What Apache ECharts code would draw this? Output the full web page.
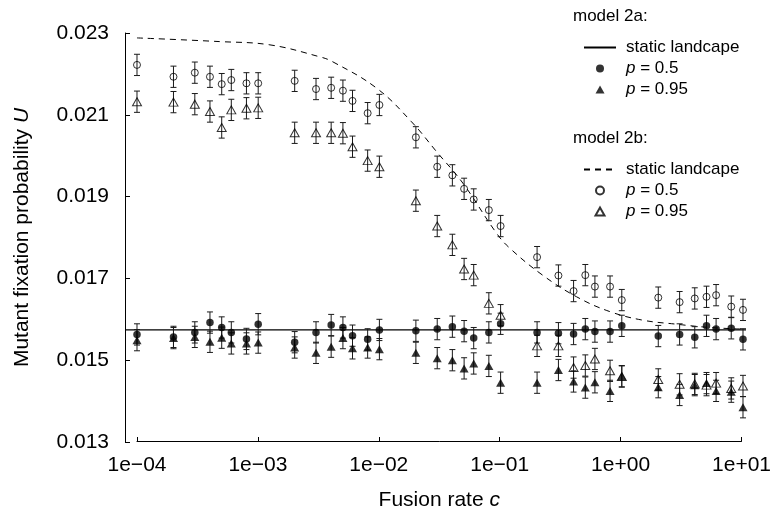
<!DOCTYPE html>
<html><head><meta charset="utf-8">
<script src="https://cdn.jsdelivr.net/npm/echarts@6/dist/echarts.min.js"></script>
<style>html,body{margin:0;padding:0;background:#fff}#chart{width:774px;height:516px}</style>
</head><body><div id="chart"></div>
<script>
// ---- data ----
const C = [1e-4,2e-4,3e-4,4e-4,5e-4,6e-4,8e-4,
           1e-3,2e-3,3e-3,4e-3,5e-3,6e-3,8e-3,
           1e-2,2e-2,3e-2,4e-2,5e-2,6e-2,8e-2,
           0.1,0.2,0.3,0.4,0.5,0.6,0.8,
           1,2,3,4,5,6,8,
           10];
const U_2A_P05 = [0.01563,0.01557,0.01568,0.01592,0.01580,0.01568,0.01552,
                  0.01588,0.01544,0.01568,0.01586,0.01580,0.01560,0.01551,
                  0.01574,0.01572,0.01576,0.01582,0.01571,0.01554,0.01568,
                  0.01589,0.01568,0.01566,0.01564,0.01576,0.01570,0.01570,
                  0.01584,0.01559,0.01563,0.01556,0.01584,0.01576,0.01578,
                  0.01551];
const U_2A_P095 = [0.01549,0.01554,0.01557,0.01545,0.01555,0.01541,0.01541,
                   0.01543,0.01531,0.01518,0.01533,0.01554,0.01529,0.01531,
                   0.01527,0.01518,0.01505,0.01500,0.01480,0.01492,0.01486,
                   0.01445,0.01445,0.01476,0.01448,0.01433,0.01446,0.01425,
                   0.01461,0.01434,0.01415,0.01439,0.01444,0.01425,0.01423,
                   0.01385];
const U_2B_P05 = [0.02222,0.02193,0.02203,0.02193,0.02175,0.02185,0.02177,
                  0.02177,0.02183,0.02163,0.02166,0.02159,0.02134,0.02104,
                  0.02124,0.02045,0.01973,0.01952,0.01919,0.01893,0.01867,
                  0.01828,0.01752,0.01707,0.01669,0.01708,0.01680,0.01680,
                  0.01647,0.01653,0.01642,0.01651,0.01655,0.01659,0.01631,
                  0.01623];
const U_2B_P095 = [0.02132,0.02131,0.02126,0.02108,0.02069,0.02112,0.02116,
                   0.02117,0.02056,0.02056,0.02056,0.02055,0.02022,0.01988,
                   0.01973,0.01890,0.01828,0.01782,0.01723,0.01708,0.01639,
                   0.01610,0.01535,0.01535,0.01482,0.01487,0.01503,0.01474,
                   0.01460,0.01453,0.01441,0.01442,0.01439,0.01444,0.01431,
                   0.01437];
const STATIC_2A_U = 0.01574;
const STATIC_2B_C = [1e-4,4.8e-4,1.25e-3,3.2e-3,4.1e-3,9.5e-3,0.0184,0.0296,0.0488,0.0923,0.119,0.222,0.424,0.794,1.48,2.83,5.3,10];
const STATIC_2B_U = [0.02288,0.02279,0.02271,0.02242,0.0223,0.02165,0.02083,0.0201,0.01933,0.01811,0.01774,0.01708,0.01655,0.01619,0.01598,0.01588,0.0158,0.01576];
const ERR = 0.00026;
const Y_MIN = 0.013, Y_MAX = 0.023, Y_STEP = 0.002;
const X_TICK_LABELS = ['1e\u221204','1e\u221203','1e\u221202','1e\u221201','1e+00','1e+01'];
const LEGEND_LABELS = {
  s2a: 'static landcape', c2a: '{i|p} = 0.5', t2a: '{i|p} = 0.95',
  s2b: 'static landcape', c2b: '{i|p} = 0.5', t2b: '{i|p} = 0.95'
};

// ---- layout ----
const FONT = "'Liberation Sans', Arial, Helvetica, sans-serif";
const X_MIN = Math.pow(10, -4.099), X_MAX = Math.pow(10, 1.0248);
const TRI_ICON = 'path://M0,8L4.5,0L9,8Z';
const HIDE_SYMBOL = {color: 'rgba(0,0,0,0)', borderWidth: 0};

function errRender(params, api) {
  const x = api.value(0), lo = api.value(1), hi = api.value(2);
  const a = api.coord([x, lo]), b = api.coord([x, hi]);
  const w = 3;
  const st = {stroke: '#1a1a1a', lineWidth: 1};
  return {type: 'group', children: [
    {type: 'line', shape: {x1: a[0], y1: a[1], x2: b[0], y2: b[1]}, style: st},
    {type: 'line', shape: {x1: a[0]-w, y1: a[1], x2: a[0]+w, y2: a[1]}, style: st},
    {type: 'line', shape: {x1: b[0]-w, y1: b[1], x2: b[0]+w, y2: b[1]}, style: st}
  ]};
}
function errSeries(U) {
  return {type: 'custom', xAxisIndex: 0, yAxisIndex: 0, renderItem: errRender, z: 2,
    dimensions: ['x','lo','hi'], encode: {x: 0, y: [1, 2]},
    data: C.map((c, i) => [c, U[i] - ERR, U[i] + ERR]), silent: true};
}
function pts(U) { return C.map((c, i) => [c, U[i]]); }

const openStyle = {color: 'rgba(255,255,255,0)', borderColor: '#000', borderWidth: 1};
const fillStyle = {color: '#000'};
const legendText = {fontSize: 17, color: '#000', fontFamily: FONT, padding: [0, 0, 0, 5],
  rich: {i: {fontStyle: 'italic', fontSize: 17, fontFamily: FONT, color: '#000'}}};

const chart = echarts.init(document.getElementById('chart'), null, {renderer: 'canvas'});
chart.setOption({
  animation: false,
  backgroundColor: '#fff',
  textStyle: {fontFamily: FONT},
  grid: [
    {left: 125, right: 28, top: 33, bottom: 74},
    {left: 137, right: 31, top: 33, bottom: 74}
  ],
  xAxis: [
    {gridIndex: 0, type: 'log', logBase: 10, min: X_MIN, max: X_MAX, show: false},
    {gridIndex: 1, type: 'log', logBase: 10, min: 1e-4, max: 10, splitNumber: 5,
     axisLine: {show: true, lineStyle: {color: '#000', width: 1}},
     axisTick: {show: true, inside: true, length: 4, lineStyle: {color: '#000'}},
     minorTick: {show: false}, splitLine: {show: false},
     axisLabel: {margin: 14, fontSize: 21, color: '#000', fontFamily: FONT,
       formatter: v => X_TICK_LABELS[Math.round(Math.log10(v)) + 4]},
     name: 'Fusion rate {i|c}', nameLocation: 'middle', nameGap: 49,
     nameTextStyle: {fontSize: 21, color: '#000', fontFamily: FONT,
       rich: {i: {fontStyle: 'italic', fontSize: 21, fontFamily: FONT, color: '#000'}}}}
  ],
  yAxis: [
    {gridIndex: 0, type: 'value', min: Y_MIN, max: Y_MAX, interval: Y_STEP,
     axisLine: {show: true, lineStyle: {color: '#000', width: 1}},
     axisTick: {show: true, inside: true, length: 5, lineStyle: {color: '#000'}},
     splitLine: {show: false},
     axisLabel: {margin: 16, fontSize: 21, color: '#000', fontFamily: FONT,
       formatter: v => v.toFixed(3)},
     name: 'Mutant fixation probability {i|U}', nameLocation: 'middle', nameGap: 92,
     nameTextStyle: {fontSize: 21, color: '#000', fontFamily: FONT,
       rich: {i: {fontStyle: 'italic', fontSize: 21, fontFamily: FONT, color: '#000'}}}},
    {gridIndex: 1, type: 'value', min: Y_MIN, max: Y_MAX, show: false}
  ],
  legend: [
    {data: [{name: 's2a', itemStyle: HIDE_SYMBOL}, {name: 'c2a', icon: 'circle'}, {name: 't2a', icon: TRI_ICON}],
     orient: 'vertical', left: 578, top: 34, symbolKeepAspect: true,
     itemWidth: 32, itemHeight: 8, itemGap: 4, selectedMode: false,
     formatter: n => LEGEND_LABELS[n], textStyle: legendText},
    {data: [{name: 's2b', itemStyle: HIDE_SYMBOL}, {name: 'c2b', icon: 'circle'}, {name: 't2b', icon: TRI_ICON}],
     orient: 'vertical', left: 578, top: 156, symbolKeepAspect: true,
     itemWidth: 32, itemHeight: 8, itemGap: 4, selectedMode: false,
     formatter: n => LEGEND_LABELS[n], textStyle: legendText}
  ],
  graphic: [
    {type: 'text', left: 573, top: 8, style: {text: 'model 2a:', font: '17px ' + FONT, fill: '#000'}},
    {type: 'text', left: 573, top: 130, style: {text: 'model 2b:', font: '17px ' + FONT, fill: '#000'}}
  ],
  series: [
    {name: 's2a', type: 'line', xAxisIndex: 0, yAxisIndex: 0, symbol: 'none', z: 1,
     lineStyle: {color: '#000', width: 1.2}, itemStyle: {color: '#000'},
     data: [[X_MIN, STATIC_2A_U], [X_MAX, STATIC_2A_U]], silent: true},
    {name: 's2b', type: 'line', xAxisIndex: 0, yAxisIndex: 0, symbol: 'none', z: 1, smooth: 0.4,
     lineStyle: {color: '#000', width: 1, type: [6, 5]}, itemStyle: {color: '#000'},
     data: STATIC_2B_C.map((c, i) => [c, STATIC_2B_U[i]]), silent: true},
    errSeries(U_2A_P05), errSeries(U_2A_P095), errSeries(U_2B_P05), errSeries(U_2B_P095),
    {name: 'c2a', type: 'scatter', xAxisIndex: 0, yAxisIndex: 0, symbol: 'circle', symbolSize: 7.5, z: 3,
     itemStyle: fillStyle, data: pts(U_2A_P05), silent: true},
    {name: 't2a', type: 'scatter', xAxisIndex: 0, yAxisIndex: 0, symbol: 'triangle', symbolSize: [9, 8], z: 3,
     itemStyle: fillStyle, data: pts(U_2A_P095), silent: true},
    {name: 'c2b', type: 'scatter', xAxisIndex: 0, yAxisIndex: 0, symbol: 'circle', symbolSize: 7, z: 3,
     itemStyle: openStyle, data: pts(U_2B_P05), silent: true},
    {name: 't2b', type: 'scatter', xAxisIndex: 0, yAxisIndex: 0, symbol: 'triangle', symbolSize: [9, 8], z: 3,
     itemStyle: openStyle, data: pts(U_2B_P095), silent: true}
  ]
});
</script></body></html>
